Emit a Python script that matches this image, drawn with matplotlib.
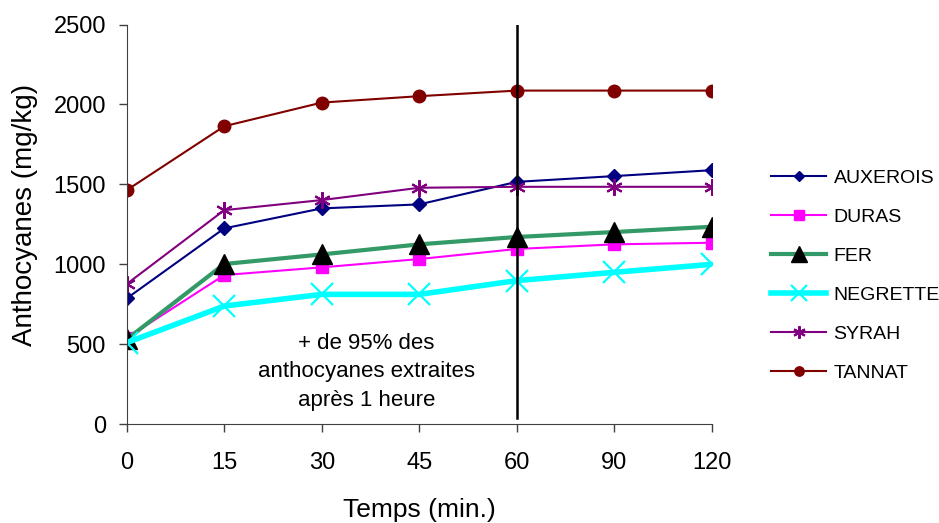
import numpy as np
import matplotlib
matplotlib.use("Agg")
import matplotlib.pyplot as plt

plt.rcParams['font.family'] = ['Liberation Sans', 'DejaVu Sans']

# temps de macération (min.)
temps = ["0", "15", "30", "45", "60", "90", "120"]

auxerois = [787, 1225, 1350, 1375, 1516, 1552, 1589]
duras = [540, 933, 981, 1033, 1096, 1125, 1135]
fer = [531, 1002, 1062, 1125, 1171, 1202, 1235]
negrette = [510, 739, 812, 812, 898, 950, 1000]
syrah = [877, 1339, 1402, 1479, 1485, 1485, 1485]
tannat = [1464, 1864, 2012, 2052, 2087, 2087, 2087]

x = np.arange(len(temps))

fig = plt.figure(figsize=(9.39, 5.23), dpi=100)
ax = fig.add_axes([0.135, 0.189, 0.623, 0.764])

ax.plot(x, auxerois, color='#000080', lw=1.5, marker='D', ms=7,
        mfc='#000080', mec='#000080', label='AUXEROIS')
ax.plot(x, duras, color='#FF00FF', lw=1.5, marker='s', ms=9,
        mfc='#FF00FF', mec='#FF00FF', label='DURAS')
ax.plot(x, fer, color='#339966', lw=3, marker='^', ms=15,
        mfc='black', mec='black', label='FER')
ax.plot(x, negrette, color='#00FFFF', lw=4, marker='x', ms=16,
        mew=1.6, mec='#00FFFF', label='NEGRETTE')
ax.plot(x, syrah, color='#800080', lw=1.5, marker=(6, 2, 0), ms=12,
        mew=1.5, mec='#800080', label='SYRAH')
ax.plot(x, tannat, color='#800000', lw=1.5, marker='o', ms=9,
        mfc='#800000', mec='#800000', label='TANNAT')

# repère à 1 heure
ax.axvline(4, ymin=0.016, ymax=1, color='black', lw=1.8)

ax.text(2.46, 327, "+ de 95% des\nanthocyanes extraites\naprès 1 heure",
        ha='center', va='center', fontsize=16, linespacing=1.45)

ax.set_xlim(0, 6)
ax.set_ylim(0, 2500)
ax.set_xticks(x)
ax.set_xticklabels(temps)
ax.set_yticks(range(0, 2501, 500))
ax.tick_params(axis='both', labelsize=17, direction='out', length=6, width=1,
               color='#404040')
ax.tick_params(axis='x', pad=14)
ax.tick_params(axis='y', pad=9)
for s in ['top', 'right']:
    ax.spines[s].set_visible(False)
ax.spines['left'].set_color('#404040')
ax.spines['bottom'].set_color('#404040')

ax.set_xlabel("Temps (min.)", fontsize=19)
ax.set_ylabel("Anthocyanes (mg/kg)", fontsize=20)
ax.xaxis.set_label_coords(0.5, -0.185)
ax.yaxis.set_label_coords(-0.152, 0.524)

ax.legend(loc='center left', bbox_to_anchor=(1.072, 0.371), frameon=False,
          fontsize=14, handlelength=2.8, labelspacing=1.1, handletextpad=0.4,
          markerscale=0.75)

fig.savefig("out.png", dpi=100)
